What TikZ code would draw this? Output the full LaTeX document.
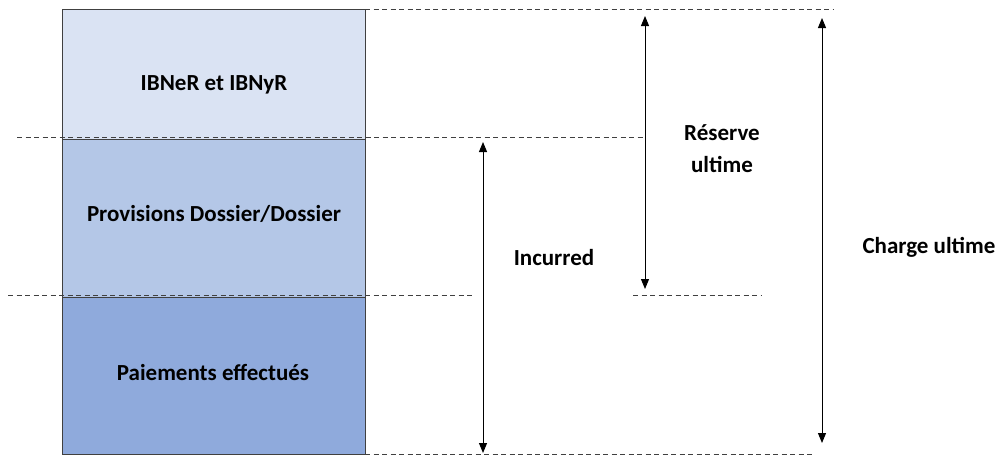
\documentclass[tikz,border=0pt]{standalone}
\usepackage{fontspec}
\setmainfont{Carlito}
\usetikzlibrary{arrows.meta}
\definecolor{layerA}{HTML}{DAE3F3}
\definecolor{layerB}{HTML}{B4C7E7}
\definecolor{layerC}{HTML}{8FAADC}
\definecolor{edge}{HTML}{404040}
\begin{document}
\begin{tikzpicture}[x=1pt,y=-1pt,
  layer/.style={draw=edge,line width=1.2pt,minimum width=303pt,inner sep=0pt,anchor=north west},
  guide/.style={draw=edge,line width=0.8pt,dash pattern=on 5pt off 3.5pt},
  span/.style={draw=black,line width=1pt,{Triangle[length=10pt,width=8pt]}-{Triangle[length=10pt,width=8pt]}},
  lbl/.style={font=\bfseries\fontsize{23}{27}\selectfont,inner sep=0pt,anchor=base}]
\useasboundingbox (0,0) rectangle (998,455);
\fill[white] (0,0) rectangle (998,455);

% stacked layers of the claim charge
\node[layer,fill=layerA,minimum height=130pt] (ibnr) at (62,9) {};
\node[layer,fill=layerB,minimum height=158pt] (prov) at (62,139) {};
\node[layer,fill=layerC,minimum height=157pt] (paid) at (62,297) {};
\node[lbl] (ibnrl) at (214,90)  {IBNeR et IBNyR};
\node[lbl] (provl) at (214,221) {Provisions Dossier/Dossier};
\node[lbl] (paidl) at (213,380) {Paiements effectués};

% guide coordinates
\coordinate (t0) at (365,9);    \coordinate (t1) at (833,9);
\coordinate (m0) at (17,137);   \coordinate (m1) at (643,137);
\coordinate (l0) at (8,295);    \coordinate (l1) at (475,295);
\coordinate (r0) at (633,295);  \coordinate (r1) at (762,295);
\coordinate (b0) at (365,454);  \coordinate (b1) at (812,454);

\draw[guide] (t0) -- (t1);
\draw[guide] (m0) -- (m1);
\draw[guide] (l0) -- (l1);
\draw[guide] (r0) -- (r1);
\draw[guide] (b0) -- (b1);

% measurement arrows
\coordinate (inc0) at (483,142); \coordinate (inc1) at (483,453);
\coordinate (res0) at (645,16);  \coordinate (res1) at (645,289);
\coordinate (chg0) at (822,18);  \coordinate (chg1) at (822,443);
\draw[span] (inc0) -- (inc1);
\draw[span] (res0) -- (res1);
\draw[span] (chg0) -- (chg1);

\node[lbl] (incl) at (554,265) {Incurred};
\node[lbl] (resl) at (722,140) {Réserve};
\node[lbl] (resl2) at (722,172) {ultime};
\node[lbl] (chgl) at (929,253) {Charge ultime};
\end{tikzpicture}
\end{document}
